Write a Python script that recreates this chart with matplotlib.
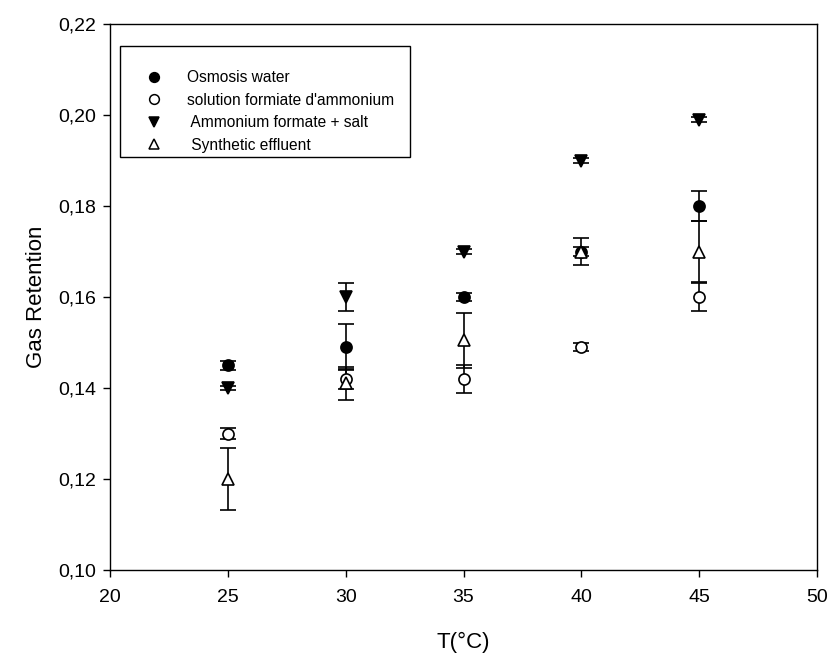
import numpy as np
import matplotlib.pyplot as plt
from matplotlib.patches import Rectangle
from matplotlib.ticker import FuncFormatter

plt.rcParams['font.family'] = ['Liberation Sans', 'DejaVu Sans']

temp = [25, 30, 35, 40, 45]

osmosis = [0.145, 0.149, 0.160, 0.170, 0.180]
osmosis_err = [0.001, 0.005, 0.0008, 0.001, 0.0033]

formate = [0.130, 0.142, 0.142, 0.149, 0.160]
formate_err = [0.0012, 0.0022, 0.003, 0.0008, 0.003]

salt = [0.140, 0.160, 0.170, 0.190, 0.199]
salt_err = [0.0005, 0.003, 0.0005, 0.0005, 0.0005]

effluent = [0.120, 0.141, 0.1505, 0.170, 0.170]
effluent_err = [0.0068, 0.0037, 0.006, 0.003, 0.0067]

labels = ['Osmosis water', 'solution formiate d\'ammonium',
          ' Ammonium formate + salt', ' Synthetic effluent']

fig = plt.figure(figsize=(8.27, 6.57), dpi=100)
ax = fig.add_axes([0.133, 0.1324, 0.855, 0.831])

series = [(osmosis, osmosis_err, 'o', 'black'),
          (formate, formate_err, 'o', 'white'),
          (salt, salt_err, 'v', 'black'),
          (effluent, effluent_err, '^', 'white')]

for (y, e, m, fc) in series:
    ax.errorbar(temp, y, yerr=e, fmt='none', ecolor='black', elinewidth=1.2,
                capsize=6, capthick=1.2, zorder=2)
    ax.plot(temp, y, linestyle='none', marker=m, markersize=8,
            markerfacecolor=fc, markeredgecolor='black', markeredgewidth=1.2, zorder=3)

ax.set_xlim(20, 50)
ax.set_ylim(0.10, 0.22)
ax.set_xticks(np.arange(20, 51, 5))
ax.set_yticks(np.arange(0.10, 0.221, 0.02))
ax.yaxis.set_major_formatter(FuncFormatter(lambda v, p: ('%.2f' % v).replace('.', ',')))
ax.tick_params(direction='out', length=5, width=1, labelsize=14)
ax.tick_params(axis='x', pad=9)
ax.tick_params(axis='y', pad=5)
for s in ax.spines.values():
    s.set_linewidth(1)

ax.set_xlabel('T(°C)', fontsize=16, labelpad=18)
ax.set_ylabel('Gas Retention', fontsize=16, labelpad=8)

# legend box drawn by hand, entries placed inside it
ax.add_patch(Rectangle((0.014, 0.756), 0.41, 0.204, transform=ax.transAxes,
                       facecolor='white', edgecolor='black', linewidth=1, zorder=4))
leg_handles = []
for (y, e, m, fc) in series:
    h, = ax.plot([], [], linestyle='none', marker=m, markersize=7,
                 markerfacecolor=fc, markeredgecolor='black', markeredgewidth=1.1)
    leg_handles.append(h)
leg = ax.legend(leg_handles, labels, loc='upper left', bbox_to_anchor=(0.038, 0.915),
                fontsize=11.2, frameon=False, borderpad=0, labelspacing=0.48,
                handletextpad=1.0, handlelength=2.2, borderaxespad=0)
leg.set_zorder(5)

fig.savefig('out.png', dpi=100)
